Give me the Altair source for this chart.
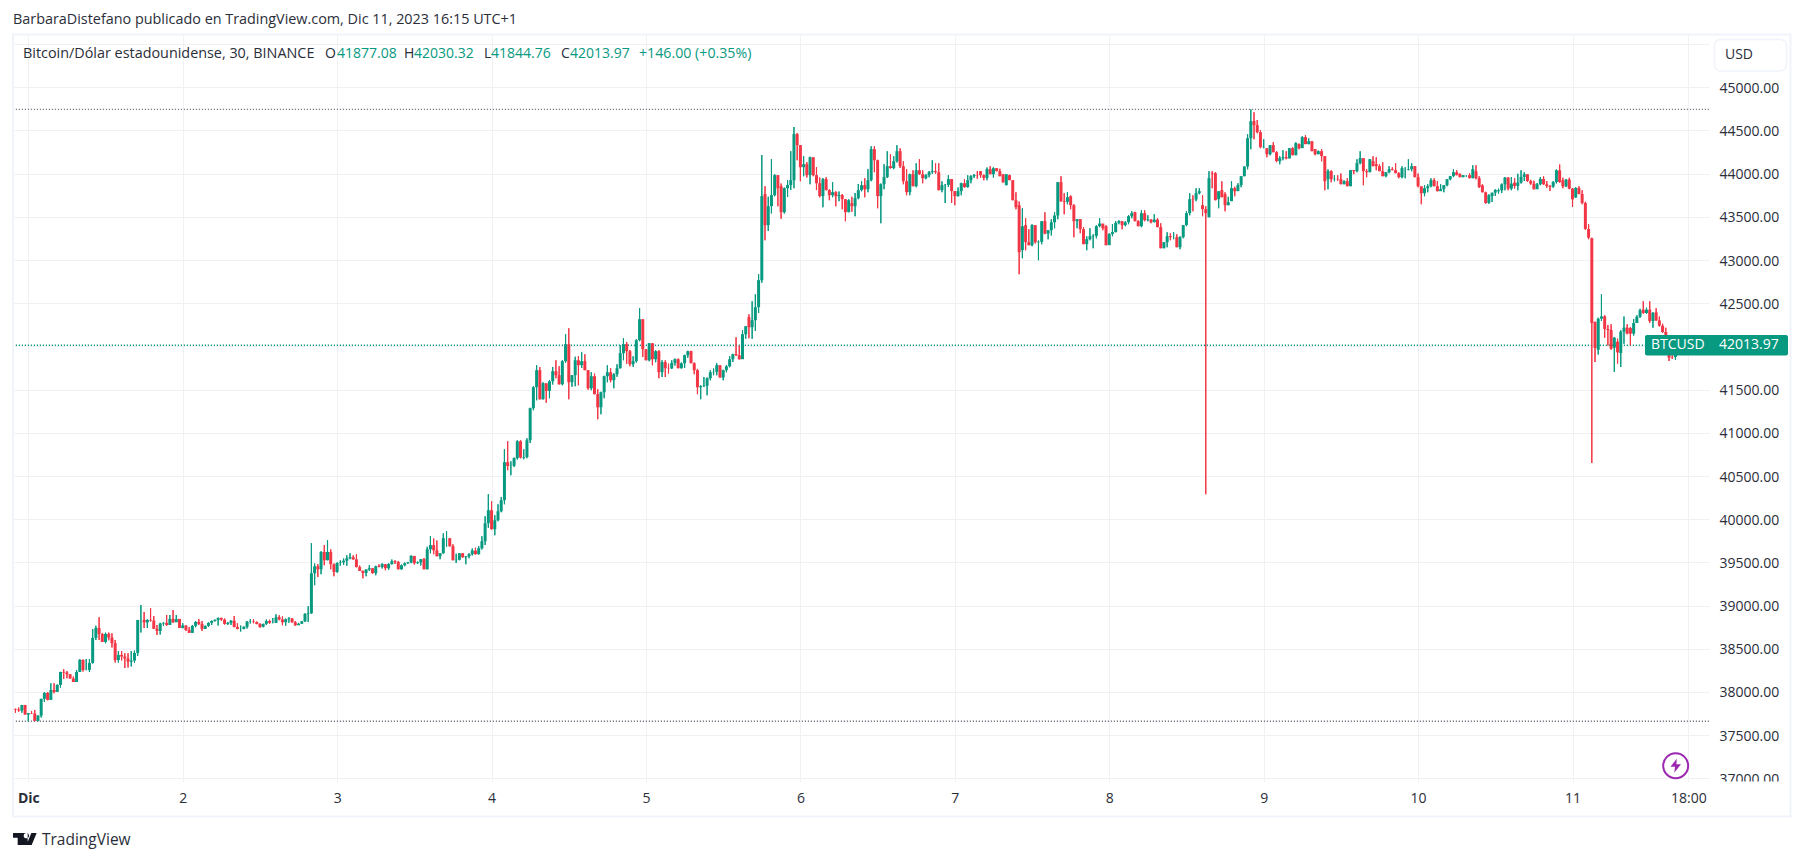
import altair as alt
import pandas as pd

# 30-minute candles, index 0 = Dec 1 00:00, first candle = index -4
first_index = -4
closes = [
37796,37785,37850,37738,37755,37750,37665,37726,37920,37989,
37908,38023,38000,38082,38232,38225,38205,38155,38115,38232,
38371,38255,38255,38336,38626,38741,38672,38579,38672,38630,
38565,38370,38429,38410,38386,38350,38363,38452,38834,38834,
38805,38834,38826,38730,38707,38792,38800,38775,38846,38806,
38846,38741,38770,38718,38684,38765,38811,38788,38730,38765,
38800,38822,38834,38857,38838,38788,38800,38825,38753,38730,
38730,38753,38814,38815,38810,38788,38753,38788,38822,38800,
38800,38865,38840,38807,38842,38850,38807,38772,38790,38818,
38904,38910,39374,39455,39420,39621,39525,39621,39479,39390,
39494,39500,39520,39548,39560,39535,39445,39400,39378,39417,
39432,39375,39455,39447,39480,39432,39480,39513,39505,39420,
39467,39490,39500,39575,39490,39500,39537,39420,39652,39700,
39640,39571,39606,39780,39780,39687,39525,39530,39606,39560,
39570,39595,39637,39595,39664,39745,39953,40104,39884,39988,
40092,40220,40660,40617,40620,40706,40903,40713,40720,40914,
41285,41528,41725,41389,41574,41485,41597,41713,41667,41562,
41829,42026,41586,41667,41840,41783,41829,41725,41516,41655,
41447,41296,41470,41655,41701,41609,41678,41748,41922,42026,
41945,41795,41829,42072,42315,41968,41840,42037,41852,41945,
41702,41818,41748,41745,41809,41852,41748,41805,41899,41945,
41806,41725,41527,41540,41545,41632,41701,41705,41783,41640,
41725,41770,41852,41910,41897,41852,42141,42234,42222,42304,
42454,42767,43740,43404,43624,43751,43983,43832,43554,43832,
43868,43925,44458,44330,44075,44110,43983,44190,43983,43890,
43740,43937,43809,43751,43786,43740,43752,43705,43554,43693,
43624,43716,43809,43867,43820,43925,44284,44156,43740,43878,
43960,44087,44065,44145,44260,44087,43913,43786,43994,43855,
44040,43994,43948,43982,44017,44029,44017,43809,43867,43870,
43937,43798,43740,43798,43890,43844,43925,43972,43983,43980,
43983,43952,44052,43994,44064,44029,43971,43902,43994,43925,
43693,43612,43091,43392,43207,43172,43404,43207,43211,43450,
43307,43346,43438,43516,43902,43682,43674,43728,43635,43450,
43473,43357,43184,43242,43276,43280,43392,43423,43369,43172,
43300,43323,43431,43450,43404,43438,43508,43543,43450,43392,
43543,43462,43469,43438,43469,43381,43137,43207,43276,43265,
43265,43149,43265,43404,43543,43705,43701,43774,43797,43589,
43543,43948,44002,43693,43797,43728,43635,43670,43832,43797,
43867,43971,44083,44411,44608,44562,44481,44307,44311,44226,
44330,44249,44145,44180,44191,44176,44295,44214,44353,44295,
44423,44342,44376,44261,44226,44261,44203,43913,44029,43936,
43940,43936,43878,43913,43855,44041,44029,44122,44180,44029,
44017,44168,44087,44087,44029,43971,44017,44052,44041,44006,
43960,44064,44064,44052,44087,43960,43855,43774,43832,43855,
43925,43855,43797,43821,43867,43936,43971,44017,43983,43960,
43983,43983,43948,44052,43948,43846,43784,43661,43750,43780,
43811,43807,43877,43954,43827,43885,43858,43896,43962,43993,
43915,43885,43819,43877,43939,43877,43858,43850,43904,44039,
43904,43854,43931,43827,43703,43834,43765,43661,43360,43259,
42271,41982,42321,42348,42202,42190,41974,42101,41931,42171,
42217,42148,42148,42271,42344,42418,42387,42426,42294,42387,
42302,42240,42167,42070,41870,41866,42013.97,
]
highs = [
37805,37820,37850,37850,37755,37780,37792,37730,37922,37996,
38000,38100,38100,38085,38232,38263,38243,38205,38178,38255,
38382,38375,38382,38382,38730,38765,38865,38680,38687,38687,
38680,38602,38475,38475,38448,38448,38475,38479,38834,39008,
38927,38842,38973,38880,38776,38800,38808,38892,38892,38950,
38892,38835,38795,38770,38753,38776,38820,38846,38822,38770,
38805,38828,38840,38862,38860,38850,38810,38830,38880,38795,
38770,38760,38822,38842,38842,38815,38795,38790,38840,38835,
38857,38900,38888,38876,38850,38865,38855,38820,38800,38820,
38912,38992,39722,39486,39480,39630,39700,39757,39652,39486,
39500,39525,39545,39583,39606,39583,39595,39465,39405,39420,
39467,39430,39460,39478,39490,39480,39490,39532,39525,39515,
39475,39500,39505,39583,39575,39510,39540,39552,39680,39803,
39776,39752,39610,39838,39860,39780,39710,39600,39610,39606,
39575,39606,39660,39670,39687,39803,40034,40290,40208,40046,
40173,40258,40810,40902,40670,40715,40914,40914,40810,40937,
41290,41540,41783,41763,41586,41570,41609,41763,41840,41770,
41840,42142,42211,41670,41880,41887,41933,41910,41725,41700,
41686,41505,41475,41660,41783,41748,41690,41794,42014,42095,
42050,41960,41887,42084,42443,42315,41968,42040,42037,41957,
41957,41840,41840,41800,41840,41860,41860,41815,41905,41950,
41950,41815,41740,41550,41647,41640,41725,41745,41806,41775,
41730,41783,41887,41915,42107,42014,42188,42238,42373,42524,
42605,42836,44215,43855,43732,44168,43994,43983,43886,43840,
43925,44260,44539,44470,44330,44203,44135,44195,44190,44075,
43956,43950,43960,43820,43902,43798,43795,43765,43705,43705,
43732,43775,43880,43913,43948,44052,44318,44318,44160,43885,
44110,44260,44226,44203,44330,44295,44145,44052,44000,44040,
44120,44168,44040,43994,44030,44156,44120,44120,43913,43880,
43983,43937,43800,43840,43895,43935,43983,43983,43995,44030,
44029,43990,44071,44087,44075,44064,44056,43994,43994,43990,
43925,43786,43678,43601,43485,43357,43415,43404,43226,43450,
43554,43346,43473,43554,43902,43971,43774,43786,43747,43647,
43473,43473,43381,43276,43369,43300,43404,43485,43415,43404,
43311,43415,43450,43462,43450,43450,43519,43566,43558,43462,
43577,43577,43519,43473,43531,43485,43427,43207,43323,43311,
43323,43300,43276,43404,43566,43774,43751,43832,43832,43751,
43624,44029,44029,44017,43797,43913,43786,43732,43913,43848,
43890,43971,44083,44457,44743,44712,44620,44504,44400,44295,
44330,44365,44261,44203,44272,44261,44295,44307,44365,44349,
44434,44446,44411,44376,44284,44268,44284,44203,44052,44041,
43983,43983,44002,43925,43948,44041,44041,44168,44261,44168,
44052,44168,44203,44191,44110,44133,44017,44087,44075,44122,
44017,44087,44075,44168,44122,44087,44002,43844,43867,43878,
43948,43948,43913,43878,43867,43936,43971,44052,44041,44006,
43983,43983,44006,44098,44098,43970,43877,43792,43761,43780,
43819,43827,43885,43962,43962,43962,43946,44000,44039,44016,
43989,43931,43919,43892,43962,43970,43915,43869,43912,44047,
44105,43954,43939,43954,43834,43842,43854,43807,43676,43414,
43259,42290,42333,42603,42360,42248,42256,42109,42090,42186,
42348,42256,42225,42317,42360,42437,42522,42449,42522,42398,
42441,42348,42263,42217,42070,41897,42030.32,
]
lows = [
37760,37772,37760,37738,37657,37745,37660,37660,37705,37884,
37905,37915,37985,38010,38050,38150,38160,38155,38115,38115,
38230,38236,38250,38232,38330,38602,38602,38579,38564,38600,
38514,38340,38340,38363,38278,38282,38294,38336,38420,38687,
38741,38741,38816,38730,38660,38664,38765,38765,38785,38800,
38810,38741,38738,38706,38684,38684,38750,38775,38706,38730,
38753,38776,38815,38768,38825,38780,38776,38776,38750,38725,
38700,38725,38735,38792,38795,38785,38742,38750,38775,38790,
38795,38798,38830,38772,38765,38800,38800,38765,38785,38788,
38810,38810,38904,39235,39332,39363,39467,39525,39420,39340,
39380,39460,39470,39460,39535,39530,39445,39400,39316,39340,
39400,39370,39350,39445,39430,39410,39415,39475,39480,39420,
39415,39455,39485,39490,39475,39480,39463,39420,39420,39606,
39595,39571,39537,39600,39680,39685,39525,39494,39525,39555,
39478,39548,39580,39590,39590,39650,39700,39900,39880,39815,
39975,40080,40173,40567,40509,40605,40690,40705,40694,40706,
40883,41261,41377,41385,41385,41347,41400,41560,41632,41560,
41550,41810,41389,41532,41540,41550,41750,41725,41500,41493,
41447,41157,41215,41400,41586,41586,41516,41650,41745,41840,
41800,41770,41766,41815,42060,41879,41840,41829,41783,41818,
41632,41647,41647,41686,41740,41780,41748,41745,41750,41870,
41806,41678,41447,41389,41530,41435,41610,41667,41667,41640,
41610,41700,41760,41820,41890,41850,41860,42090,42095,42090,
42180,42388,42736,43230,43335,43540,43740,43624,43477,43540,
43730,43810,43830,44156,43913,43970,43956,43878,43970,43810,
43728,43612,43809,43693,43728,43624,43682,43589,43450,43554,
43558,43508,43705,43795,43728,43786,43913,44017,43600,43427,
43820,43950,44060,44052,44130,44065,43878,43750,43750,43855,
43844,43985,43890,43935,43960,44000,44000,43809,43786,43660,
43845,43660,43635,43735,43750,43840,43840,43890,43950,43940,
43952,43925,43925,43994,43956,44029,43971,43894,43867,43925,
43693,43589,42836,43022,43114,43172,43160,43191,42998,43184,
43300,43242,43284,43369,43473,43674,43531,43647,43589,43265,
43369,43311,43184,43114,43230,43137,43253,43381,43346,43172,
43184,43276,43323,43415,43357,43392,43415,43485,43450,43392,
43381,43450,43450,43427,43438,43381,43137,43137,43149,43230,
43242,43149,43126,43253,43392,43519,43566,43682,43763,43508,
40290,43496,43832,43693,43601,43728,43566,43635,43682,43739,
43809,43844,43971,44052,44284,44400,44469,44295,44295,44191,
44214,44249,44133,44110,44156,44168,44180,44214,44214,44284,
44307,44342,44342,44261,44214,44226,44145,43809,43821,43902,
43913,43917,43878,43878,43855,43855,43994,44017,44110,43867,
43960,44017,44087,44041,44029,43971,43960,44006,44041,44006,
43948,43948,43948,44041,44029,43960,43844,43647,43739,43786,
43844,43855,43797,43809,43786,43855,43925,43960,43983,43960,
43960,43963,43948,43948,43936,43834,43784,43653,43653,43672,
43742,43769,43776,43807,43807,43807,43827,43807,43885,43915,
43904,43873,43819,43827,43865,43869,43838,43800,43838,43885,
43896,43831,43846,43819,43614,43719,43761,43645,43352,43240,
40650,41820,41908,42294,42101,42012,41962,41704,41800,41762,
42032,42140,42012,42128,42271,42333,42379,42379,42271,42217,
42294,42232,42159,42063,41831,41854,41844.76,
]
first_open = 37805
# opens equal the previous close except where the picture shows a gap
open_gaps = {224:42339,229:43763,234:43855,256:43658,296:44029,303:43994,304:43867,305:43983,
 308:43635,309:43114,310:43404,324:43739,335:43392,344:43554,365:43635,367:43496,368:44010,
 369:44006,370:43705,371:43809,372:43763,374:43682,385:44295,395:44342,400:44284,404:43936,
 418:44145,419:44110,429:44044,445:43994,450:44029,452:43865,455:43742,457:43796,462:43896,
 477:43923,481:43726,486:43252,487:42283,488:41962,493:41985,494:42055,495:41924,498:42213,
 502:42426,506:42395,512:41877.08}

y_ticks = [37000,37500,38000,38500,39000,39500,40000,40500,41000,41500,42000,42500,43000,43500,44000,44500,45000,45500]
x_ticks = [0,48,96,144,192,240,288,336,384,432,480,516]
high_line = 44745
low_line = 37660
last_price = 42013.97

rows = []
prev = first_open
for k, (c, h, l) in enumerate(zip(closes, highs, lows)):
    i = first_index + k
    o = open_gaps.get(i, prev)
    rows.append(dict(i=i, o=o, h=h, l=l, c=c, d="up" if c >= o else "down"))
    prev = c
df = pd.DataFrame(rows)

GREEN = "#089981"
RED = "#F23645"
GRID = "#F0F1F4"
FRAME = "#F0F3FA"
INK = "#2A2E39"
FONT = "Open Sans"
LEFT, TOP = 14, 35
W, H = 1695, 746.6

xscale = alt.Scale(domain=[(LEFT-28.3)/3.2171, (1709-28.3)/3.2171], nice=False, zero=False, padding=0)
yscale = alt.Scale(domain=[45000-(781.6-87.3)/0.08638, 45000+(87.3-35)/0.08638], nice=False, zero=False)
color = alt.Color("d:N", scale=alt.Scale(domain=["up","down"], range=[GREEN, RED]), legend=None)

xaxis = alt.Axis(values=x_ticks, title=None, domain=False, ticks=False, grid=True, gridColor=GRID, gridWidth=1,
                 labelExpr="datum.value==0 ? 'Dic' : datum.value==516 ? '18:00' : ''+(datum.value/48+1)",
                 labelFont=FONT, labelFontSize=14, labelColor=INK, labelPadding=10, labelFlush=False,
                 labelOverlap=False,
                 labelFontWeight={"condition":{"test":"datum.value==0","value":700},"value":400})
yaxis = alt.Axis(values=y_ticks, orient="right", title=None, domain=False, ticks=False, grid=True, gridColor=GRID, gridWidth=1,
                 labelExpr="datum.value>45000 ? '' : format(datum.value,'.2f')",
                 labelFont=FONT, labelFontSize=14, labelColor=INK, labelPadding=10, labelFlush=False,
                 labelOverlap=False, labelBound=False, labelOffset=1)

wicks = alt.Chart(df).mark_rule(strokeWidth=1.1).encode(
    x=alt.X("i:Q", scale=xscale, axis=xaxis),
    y=alt.Y("l:Q", scale=yscale, axis=yaxis), y2="h:Q", color=color)
bodies = alt.Chart(df).mark_bar(size=3).encode(
    x=alt.X("i:Q", scale=xscale), y=alt.Y("o:Q", scale=yscale), y2="c:Q", color=color)

def hline(v, col):
    return alt.Chart(pd.DataFrame({"v":[v]})).mark_rule(strokeWidth=1.4, strokeDash=[1.2,1.8], color=col).encode(
        y=alt.Y("v:Q", scale=yscale))

def txt(s, x, y, col=INK, size=14, weight=400, align="left"):
    return alt.Chart(pd.DataFrame({"s":[s]})).mark_text(font=FONT, fontSize=size, fontWeight=weight, align=align,
        baseline="middle", color=col).encode(x=alt.value(x-LEFT), y=alt.value(y-TOP), text="s:N")

def box(x0, y0, x1, y1, **kw):
    return alt.Chart(pd.DataFrame({"a":[0]})).mark_rect(**kw).encode(
        x=alt.value(x0-LEFT), x2=alt.value(x1-LEFT), y=alt.value(y0-TOP), y2=alt.value(y1-TOP))

def glyph(path, x, y, px, col):
    return alt.Chart(pd.DataFrame({"a":[0]})).mark_point(shape=path, filled=True, size=px*px, color=col, opacity=1).encode(
        x=alt.value(x-LEFT), y=alt.value(y-TOP))

LOGO = ("M0.222,0.444 H-0.611 V-0.167 H-1 V-0.556 H0.222 Z "
        "M0.556,0.444 H0.111 L0.528,-0.556 H0.972 Z "
        "M-0.111,-0.333 A0.222,0.222 0 1,0 0.333,-0.333 A0.222,0.222 0 1,0 -0.111,-0.333 Z")
BOLT = "M0.15,-1 L-0.75,0.15 H-0.1 L-0.2,1 L0.75,-0.2 H0.1 Z"

layers = [
    wicks, hline(high_line, "#787B86"), hline(low_line, "#787B86"), hline(last_price, GREEN),
    wicks, bodies,
    box(13, 34.5, 1790.5, 816.5, filled=False, stroke=FRAME, strokeWidth=2),
    box(1712, 781.6, 1789, 790, fill="white"),
    box(1714.5, 39.5, 1786.5, 71, fill="white", stroke=FRAME, strokeWidth=1.5, cornerRadius=6),
    txt("USD", 1725, 55),
    box(1645, 335, 1788, 355.5, fill=GREEN, cornerRadius=2),
    txt("BTCUSD", 1651, 345.5, "white"),
    txt("42013.97", 1719, 345.5, "white"),
    txt("BarbaraDistefano publicado en TradingView.com, Dic 11, 2023 16:15 UTC+1", 13, 20, size=14.4),
    txt("Bitcoin/Dólar estadounidense, 30, BINANCE", 23, 54, size=14.4),
    txt("O", 325, 54), txt("41877.08", 337, 54, GREEN),
    txt("H", 404, 54), txt("42030.32", 414, 54, GREEN),
    txt("L", 484, 54), txt("41844.76", 491, 54, GREEN),
    txt("C", 561, 54), txt("42013.97", 570, 54, GREEN),
    txt("+146.00 (+0.35%)", 639, 54, GREEN, size=14.2),
    glyph(LOGO, 25, 839.7, 24, "#131722"),
    txt("TradingView", 42, 840, INK, 15.5),
    alt.Chart(pd.DataFrame({"a":[0]})).mark_point(shape="circle", filled=False, size=625, color="#9C27B0", strokeWidth=2, opacity=1).encode(
        x=alt.value(1675.7-LEFT), y=alt.value(765.7-TOP)),
    glyph(BOLT, 1675.7, 765.7, 14, "#9C27B0"),
]

chart = alt.layer(*layers).properties(
    width=W, height=H,
    padding={"left":LEFT-8, "top":TOP-8, "right":87, "bottom":72},
    autosize=alt.AutoSizeParams(type="none"),
    background="white",
).configure_view(stroke=None)

chart.save("out.html", embed_options={"renderer":"svg","actions":False})
